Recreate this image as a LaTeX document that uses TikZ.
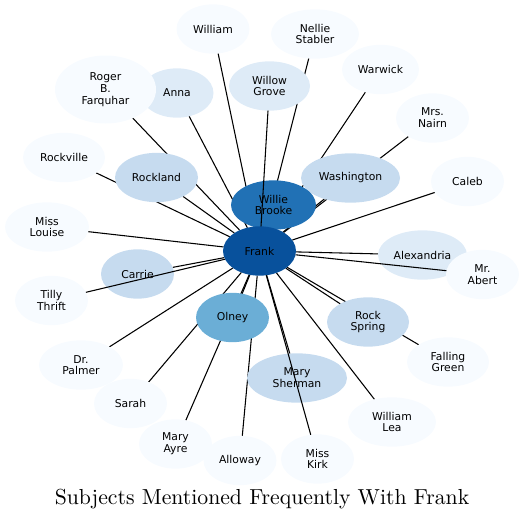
\documentclass[tikz,border=0pt]{standalone}
\usepackage{fontspec}
\usepackage{tikz}
\usetikzlibrary{shapes.geometric,backgrounds}
\newfontfamily\labfont{DejaVu Sans}
\newfontfamily\titlefont[Extension=.otf]{lmroman10-regular}
\definecolor{blueA}{RGB}{247,251,255}
\definecolor{blueB}{RGB}{222,235,247}
\definecolor{blueC}{RGB}{198,219,239}
\definecolor{blueD}{RGB}{107,174,214}
\definecolor{blueE}{RGB}{33,113,181}
\definecolor{blueF}{RGB}{8,81,156}

\begin{document}
\begin{tikzpicture}[x=0.75pt,y=-0.75pt,
    subj/.style={ellipse,fill=blueA,inner sep=0pt,outer sep=0pt,
      minimum width=54.75pt,minimum height=37pt,align=center,
      font=\labfont\fontsize{8.1}{8.8}\selectfont},
    link/.style={line width=0.8pt}]
    \useasboundingbox (0,0) rectangle (524,521);

    % Outer ring
    \node[subj] (william) at (213,29) {William};
    \node[subj,minimum width=66pt] (nellie) at (315,34) {Nellie\\Stabler};
    \node[subj,fill=blueB] (anna) at (177,93) {Anna};
    \node[subj,minimum width=75.75pt,minimum height=51pt] (roger) at (105.5,89.5) {Roger\\B.\\Farquhar};
    \node[subj,fill=blueB,minimum width=60.75pt] (willow) at (269.5,86) {Willow\\Grove};
    \node[subj,minimum width=57.75pt] (warwick) at (380.5,69.5) {Warwick};
    \node[subj] (nairn) at (432.5,118) {Mrs.\\Nairn};
    \node[subj,minimum width=61.5pt] (rockville) at (64,157.5) {Rockville};
    \node[subj,fill=blueC,minimum width=62.25pt] (rockland) at (156.5,177.5) {Rockland};
    \node[subj,fill=blueC,minimum width=74.25pt] (washington) at (350.5,178) {Washington};
    \node[subj] (caleb) at (467.5,181.5) {Caleb};
    \node[subj,minimum width=63pt] (louise) at (47,227) {Miss\\Louise};
    \node[subj,fill=blueB,minimum width=66.75pt] (alexandria) at (422.5,255) {Alexandria};
    \node[subj] (abert) at (482.5,274.5) {Mr.\\Abert};
    \node[subj,fill=blueC] (carrie) at (137.5,274) {Carrie};
    \node[subj] (tilly) at (51.5,300.5) {Tilly\\Thrift};
    \node[subj,fill=blueD] (olney) at (232.5,317.5) {Olney};
    \node[subj,fill=blueC,minimum width=61.5pt] (rockspring) at (368,322) {Rock\\Spring};
    \node[subj,minimum width=61.5pt] (falling) at (448,362) {Falling\\Green};
    \node[subj,minimum width=63pt] (palmer) at (81,365) {Dr.\\Palmer};
    \node[subj,fill=blueC,minimum width=75pt] (sherman) at (297,378) {Mary\\Sherman};
    \node[subj] (sarah) at (130.5,403.5) {Sarah};
    \node[subj,minimum width=66pt] (lea) at (392,422) {William\\Lea};
    \node[subj] (ayre) at (175.5,444) {Mary\\Ayre};
    \node[subj] (alloway) at (240,460.5) {Alloway};
    \node[subj] (kirk) at (317.5,459) {Miss\\Kirk};

    % Centre
    \node[subj,fill=blueE,minimum width=63.75pt] (willie) at (273.5,205) {Willie\\Brooke};
    \node[subj,fill=blueF] (frank) at (259.5,251) {Frank};

    % Links under the nodes
    \begin{pgfonlayer}{background}
        \foreach \s in {william,nellie,roger,anna,warwick,nairn,rockville,rockland,
            washington,caleb,louise,alexandria,carrie,olney,rockspring,falling,
            palmer,sherman,sarah,lea,ayre,alloway}
            \draw[link] (frank) -- (\s);
    \end{pgfonlayer}

    % Links over the nodes
    \foreach \s in {willow,tilly,abert,kirk}
        \draw[link] (frank) -- (\s);

    \node (title) at (262,499) {\titlefont\fontsize{16.3}{19}\selectfont Subjects Mentioned Frequently With Frank};
\end{tikzpicture}
\end{document}
